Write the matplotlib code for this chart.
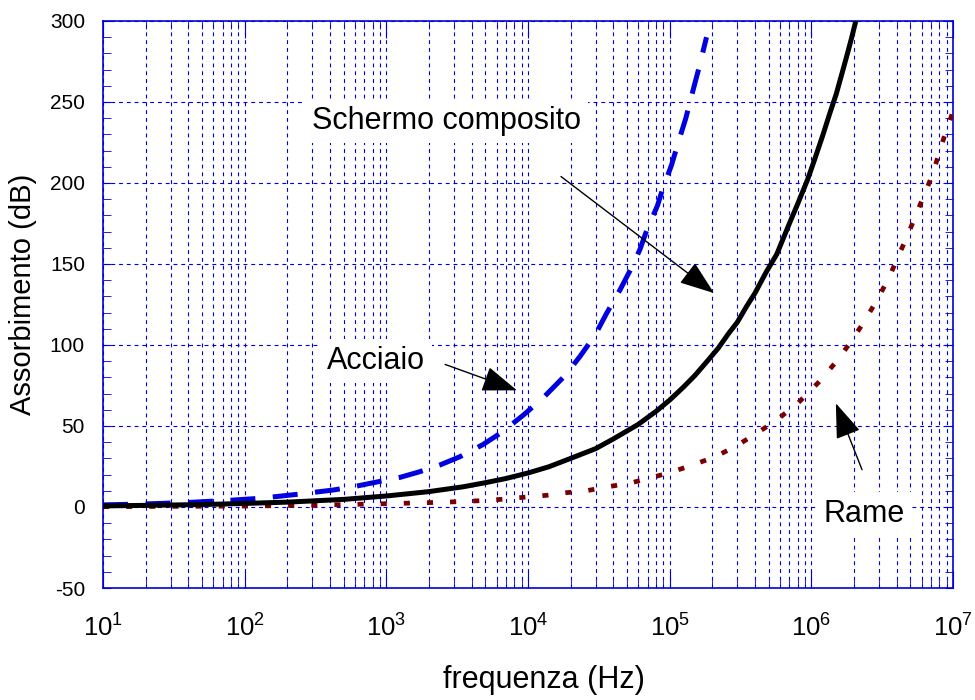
import matplotlib
matplotlib.use("Agg")
import matplotlib.pyplot as plt
from matplotlib.ticker import LogLocator, MultipleLocator, NullFormatter

plt.rcParams['font.family'] = ['Liberation Sans', 'DejaVu Sans']
plt.rcParams['mathtext.fontset'] = 'custom'
plt.rcParams['mathtext.rm'] = 'Liberation Sans'
plt.rcParams['mathtext.it'] = 'Liberation Sans:italic'
plt.rcParams['mathtext.bf'] = 'Liberation Sans:bold'
plt.rcParams['mathtext.default'] = 'rm'

# schermo composito (linea continua)
f_comp = [10, 20, 50, 100, 200, 500, 1e3, 2e3, 3.5e3, 5e3, 7e3, 1e4, 1.4e4, 2e4,
          3e4, 4e4, 6e4, 8e4, 1e5, 1.25e5, 1.5e5, 1.8e5, 2.2e5, 2.6e5, 3e5, 3.5e5,
          4e5, 4.8e5, 5.7e5, 7e5, 8e5, 9.4e5, 1.05e6, 1.2e6, 1.35e6, 1.5e6, 1.65e6,
          1.8e6, 1.93e6, 2.06e6]
a_comp = [0.7, 1.0, 1.5, 2.2, 3.0, 4.7, 6.8, 9.5, 12.5, 15, 17.6, 21, 24.8, 30,
          36, 42, 51, 59, 66, 74, 81, 89, 98, 107, 114, 124,
          132, 145, 156, 175, 187, 202, 214, 229, 243, 255, 268,
          280, 290, 300]

# acciaio (tratteggiata)
f_acc = [10, 20, 40, 80, 130, 245, 423, 585, 832, 1250, 1680, 2400, 3300, 4800,
         6500, 9300, 1.3e4, 1.82e4, 2.33e4, 2.97e4, 3.59e4, 4.46e4, 5.4e4, 6.17e4,
         6.9e4, 8.2e4, 8.9e4, 1.03e5, 1.15e5, 1.3e5, 1.45e5, 1.62e5, 1.82e5]
a_acc = [1.3, 1.9, 2.8, 4.2, 5.4, 8.0, 10.5, 12.5, 15.2, 18.3, 21.5, 26, 31, 38.5,
         46, 56.8, 68, 81, 93, 106, 119.6, 134, 148, 159,
         171, 186, 196, 211, 225, 240, 256, 272, 290]

# rame (punteggiata)
f_rame = [10, 100, 300, 850, 2000, 3300, 4600, 6700, 9300, 1.35e4, 1.85e4, 2.6e4,
          3.7e4, 5.4e4, 7.4e4, 1e5, 1.45e5, 2.05e5, 2.9e5, 4e5, 5.6e5, 8.1e5,
          1.12e6, 1.5e6, 1.93e6, 2.4e6, 2.96e6, 3.56e6, 4.1e6, 4.8e6, 5.5e6,
          6.3e6, 7.2e6, 8.07e6, 9e6, 1e7]
a_rame = [0.2, 0.6, 1.1, 1.9, 2.7, 3.3, 3.9, 4.8, 6.0, 7.2, 8.8, 10.1,
          12.5, 15.0, 18.1, 21.2, 25.9, 30.7, 37.2, 44.9, 53.1, 64.4,
          76.8, 89.7, 102.7, 115.5, 128.9, 142.2, 154.6, 168, 180.8,
          193.1, 205.7, 220, 232.9, 244]

xticks = [1e1, 1e2, 1e3, 1e4, 1e5, 1e6, 1e7]
xlabels = [r'$10^{1}$', r'$10^{2}$', r'$10^{3}$', r'$10^{4}$', r'$10^{5}$', r'$10^{6}$', r'$10^{7}$']
yticks = [-50, 0, 50, 100, 150, 200, 250, 300]
ylabels = ['-50', '0', '50', '100', '150', '200', '250', '300']

blu = '#0000dd'

fig = plt.figure(figsize=(9.75, 7), dpi=100)
ax = fig.add_axes([103/975, 1-588/700, 850/975, 567/700])

ax.plot(f_rame, a_rame, color='#7a0000', lw=3.4, linestyle=(0, (1.3, 3.6)), zorder=3)
ax.plot(f_acc, a_acc, color='#0000e0', lw=3.6, linestyle=(0, (5, 3.5)), zorder=3)
ax.plot(f_comp, a_comp, color='black', lw=3.6, zorder=4)

ax.set_xscale('log')
ax.set_xlim(10, 1e7)
ax.set_ylim(-50, 300)
ax.set_xticks(xticks, xlabels)
ax.xaxis.set_minor_locator(LogLocator(base=10, subs=range(2, 10), numticks=20))
ax.xaxis.set_minor_formatter(NullFormatter())
ax.set_yticks(yticks, ylabels)
ax.yaxis.set_minor_locator(MultipleLocator(10))

ax.grid(True, which='major', color=blu, linestyle=(0, (3.5, 3.5)), lw=0.8)
ax.grid(True, which='minor', axis='x', color=blu, linestyle=(0, (3.5, 3.5)), lw=0.8)
ax.set_axisbelow(True)

for s in ax.spines.values():
    s.set_color(blu)
    s.set_linewidth(1.2)

ax.tick_params(which='both', direction='in', top=True, right=True, color=blu)
ax.tick_params(axis='x', which='major', length=12, labelsize=18.5, pad=19)
ax.tick_params(axis='x', which='minor', length=6)
ax.tick_params(axis='y', which='both', length=6, labelsize=15, pad=13)

ax.set_xlabel('frequenza (Hz)', fontsize=22)
ax.xaxis.set_label_coords((544-103)/850, -0.135)
ax.set_ylabel('Assorbimento (dB)', fontsize=21)
ax.yaxis.set_label_coords(-0.078, (588-294)/567)

box = dict(facecolor='white', edgecolor='none', pad=5)
freccia = dict(arrowstyle='-|>,head_length=1.1,head_width=0.4', mutation_scale=20,
               color='black', lw=1, shrinkA=0, shrinkB=0)

ax.text(2.64e3, 238, 'Schermo composito', fontsize=22, ha='center', va='center', bbox=box, zorder=6)
ax.annotate('', xy=(2.06e5, 132), xytext=(1.71e4, 204), arrowprops=freccia, zorder=6)

ax.text(845, 90, 'Acciaio', fontsize=22, ha='center', va='center', bbox=box, zorder=6)
ax.annotate('', xy=(8.36e3, 72), xytext=(2.6e3, 88), arrowprops=freccia, zorder=6)

ax.text(2.35e6, -4.3, 'Rame', fontsize=22, ha='center', va='center', bbox=box, zorder=6)
ax.annotate('', xy=(1.49e6, 64), xytext=(2.28e6, 23), arrowprops=freccia, zorder=6)

fig.savefig('out.png', dpi=100)
